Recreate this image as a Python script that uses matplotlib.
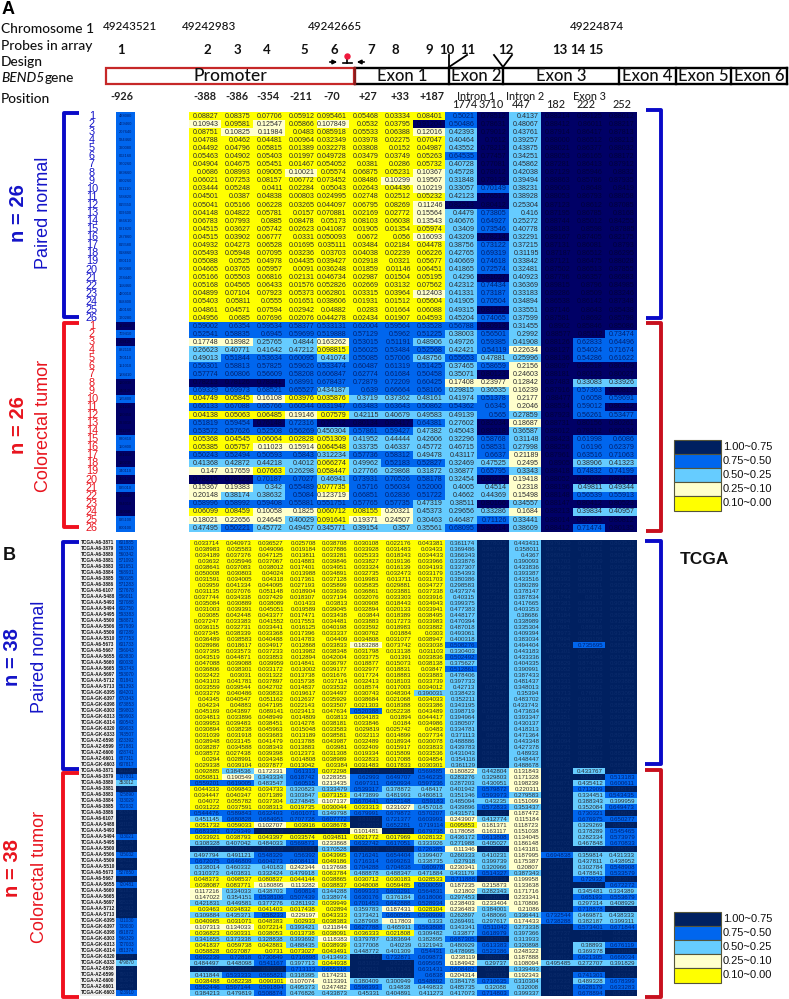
import matplotlib
matplotlib.use("Agg")
import matplotlib.pyplot as plt
from matplotlib.colors import ListedColormap, BoundaryNorm
from matplotlib.patches import Rectangle

W, H = 789, 999
HEAD = "Lato"
HW = "medium"
NUMF = "Liberation Sans"

# probe 1 column, panel A
a_p1_normal = [.6488080,.6469460,.6207640,.6584460,.6320080,.6002160,.6970260,.6889660,.6890260,.6011110,.6528820,.6015550,.6009600,
               .6886610,.6081820,.6287860,.6015580,.6018860,.6020110,.6880080,.6278440,.6158460,.6480010,.6058400,.6410160,.6170280]
a_p1_tumor = [.8123010,.6709410,.8209120,.6882110,.6780110,.6151010,.6188410,.8120930,.8340120,.6185800,.8301230,.8120450,.8223010,
              .8011230,.6090810,.6150800,.8231010,.8120230,.6340110,.8450130,.6085010,.8123040,.8034010,.8210040,.6085100,.6800100]

# probes 2-15, panel A, rows = samples
a_normal = [
 [.08827,.08375,.07706,.05912,.095461,.05468,.03334,.08401,.5021,.78512,.4137,.88214,.86125,.88012],
 [.10943,.09581,.12547,.05866,.107849,.0532,.03795,.91204,.50486,.78631,.48067,.88412,.86011,.88217],
 [.08751,.10825,.11984,.0483,.085918,.05533,.06388,.12016,.42393,.79012,.43761,.87914,.86417,.87813],
 [.04788,.0462,.04481,.00964,.032349,.03978,.02275,.07047,.40464,.7612,.39257,.88,.86512,.88213],
 [.04492,.04796,.05815,.01389,.032278,.03808,.0152,.04987,.43552,.78213,.43875,.88021,.86377,.88032],
 [.05463,.04902,.05403,.01997,.049728,.03479,.03749,.05263,.64535,.77457,.34251,.88053,.86165,.88172],
 [.04904,.04675,.05451,.01467,.054052,.0381,.0286,.05732,.40728,.77081,.45862,.87281,.86413,.87912],
 [.0686,.08993,.09005,.10021,.05574,.06875,.05231,.10367,.45728,.78012,.42038,.87129,.85946,.8832],
 [.06021,.07253,.08157,.06772,.073452,.08486,.10299,.19567,.31848,.79123,.39494,.88863,.85786,.87935],
 [.03444,.05248,.0411,.02284,.05043,.02643,.04436,.10219,.33057,.70149,.38231,.89063,.8648,.8419],
 [.04501,.0387,.04838,.00803,.024995,.02748,.02512,.05232,.42123,.76517,.38928,.88053,.86793,.88058],
 [.05041,.05166,.06228,.03265,.044097,.06795,.08269,.11246,.82513,.80412,.25304,.87123,.8612,.87085],
 [.04148,.04822,.05781,.0157,.070881,.02169,.02772,.15564,.4479,.73805,.416,.87195,.86785,.8168],
 [.06783,.07993,.0885,.08478,.05173,.08103,.06038,.13543,.40676,.64927,.25272,.88744,.85012,.84255],
 [.04515,.03627,.05742,.02623,.041087,.01905,.01354,.05974,.3409,.73546,.40778,.88183,.8598,.87885],
 [.04515,.03902,.06777,.0331,.050093,.0672,.056,.16093,.43209,.78214,.32291,.89167,.87405,.82175],
 [.04932,.04273,.06528,.01695,.035111,.03484,.02184,.04478,.38756,.73122,.37215,.87131,.86081,.8793],
 [.05493,.05948,.07095,.03236,.03703,.04038,.02239,.06226,.42765,.69319,.31195,.87187,.86512,.86295],
 [.05088,.0525,.04978,.04435,.039427,.02918,.0321,.05677,.40669,.74618,.33842,.87121,.86475,.88028],
 [.04665,.03765,.05957,.0091,.036248,.01859,.01146,.06451,.41865,.72574,.32481,.87502,.86513,.87855],
 [.05166,.05503,.06816,.02131,.046734,.02987,.01504,.05195,.4296,.81027,.40923,.87796,.86357,.86883],
 [.05168,.04565,.06433,.01576,.052826,.02669,.03132,.07562,.42312,.74434,.36369,.89815,.8796,.84985],
 [.04899,.07104,.07923,.05373,.062801,.03315,.03964,.12403,.41331,.73187,.33183,.89286,.8509,.83246],
 [.05403,.05811,.0555,.01651,.038606,.01931,.01512,.05604,.41905,.70504,.34894,.86538,.86142,.87348],
 [.04861,.04571,.07594,.02942,.04882,.0283,.01664,.06088,.49315,.81212,.33551,.87146,.8643,.85438],
 [.04956,.0685,.07696,.02076,.044278,.02434,.01907,.04593,.45204,.74065,.37599,.87581,.8692,.85798],
]
a_tumor = [
 [.59002,.6354,.59534,.58377,.533131,.62004,.59564,.53528,.56788,.80913,.31455,.8902,.85846,.85086],
 [.52541,.58835,.6945,.59699,.519888,.57129,.5962,.51225,.38003,.56501,.2992,.88577,.85112,.73474],
 [.17748,.18982,.25765,.4844,.163262,.53015,.51191,.48906,.49726,.59385,.41908,.88126,.62833,.64496],
 [.26623,.40771,.41642,.47212,.098815,.56025,.53484,.52568,.42421,.54119,.22634,.88127,.54024,.71674],
 [.49013,.51844,.53634,.60095,.41074,.55085,.57006,.48756,.55653,.47881,.25996,.88136,.54286,.61622],
 [.56301,.58813,.57825,.59626,.533474,.60487,.61319,.51425,.37465,.58659,.2156,.88097,.80518,.80409],
 [.57774,.60806,.56609,.58208,.606847,.62774,.61684,.50458,.35071,.80123,.24603,.88181,.80123,.80027],
 [.78213,.78126,.78341,.68991,.678437,.72879,.72209,.60425,.17408,.23977,.12842,.87483,.33083,.33926],
 [.69329,.69973,.68521,.65527,.434187,.639,.66664,.58106,.29815,.36535,.16239,.87916,.57363,.80812],
 [.04749,.05845,.16108,.03976,.035876,.3719,.37362,.48161,.41974,.51378,.2177,.88477,.6058,.59691],
 [.66133,.67088,.65766,.60544,.631947,.63483,.63643,.50862,.54362,.6345,.2046,.88534,.59012,.80312],
 [.04138,.05063,.06485,.19146,.07579,.42115,.40679,.49583,.49139,.565,.27859,.87923,.56261,.53477],
 [.51819,.59454,.76148,.72316,.78512,.80134,.80417,.64381,.27602,.82034,.18687,.88731,.80156,.80261],
 [.53572,.57626,.52508,.56269,.450304,.57861,.59427,.47382,.45043,.80318,.36587,.88012,.78312,.80134],
 [.05368,.04545,.06064,.02828,.051309,.41952,.44444,.42606,.32296,.58768,.31148,.88423,.61998,.6086],
 [.05385,.05757,.11023,.15914,.064548,.33735,.46337,.45772,.46715,.58531,.27998,.88256,.6196,.62379],
 [.50243,.52494,.50593,.5843,.312234,.57736,.58312,.49478,.43117,.6637,.21189,.87961,.63516,.71063],
 [.41368,.42872,.44218,.4012,.066274,.49962,.52183,.52827,.32469,.47525,.2495,.8905,.38906,.41323],
 [.147,.17659,.07663,.26298,.058447,.27766,.29868,.31872,.36877,.65795,.3343,.88418,.74832,.74199],
 [.78215,.78123,.70187,.7027,.46941,.73931,.70526,.58178,.32454,.80215,.19418,.88052,.80032,.80417],
 [.15367,.19383,.342,.55489,.077735,.5716,.56034,.52,.4005,.4514,.2318,.88196,.49811,.49344],
 [.20148,.38174,.38632,.5084,.123719,.66851,.62836,.51722,.4662,.44369,.15498,.88148,.56539,.55913],
 [.58996,.58992,.59408,.55881,.551751,.57765,.57735,.47319,.38511,.80166,.34557,.88147,.80412,.80523],
 [.06099,.08459,.10058,.1825,.060712,.08155,.20321,.45373,.29656,.33286,.1684,.88213,.39834,.40957],
 [.18021,.22656,.24645,.40029,.091641,.19371,.24507,.30463,.46487,.71126,.33441,.88014,.80316,.80812],
 [.47495,.50221,.45772,.49457,.345771,.39154,.357,.35561,.68095,.80614,.38609,.88412,.71474,.80135],
]

# probe 1 column, panel B
b_p1_normal = [.601885,.58331,.560342,.571093,.501651,.568931,.560185,.571283,.527678,.596011,.537088,.60275,.593383,.568871,
               .597939,.607289,.577753,.601733,.596043,.60383,.60003,.593743,.59307,.701841,.561393,.604201,.670343,.673853,.599803,
               .569903,.600543,.609033,.743507,.623392,.571881,.628741,.687311,.607817]
b_p1_tumor = [.801234,.737831,.353012,.802341,.72589,.733029,.702032,.803391,.821045,.831102,.812033,.733021,.817024,.809241,
              .735032,.804112,.796083,.52785,.820331,.720481,.801833,.812044,.805132,.824013,.816021,.73103,.73803,.691872,.546329,
              .727033,.681374,.810341,.47987,.802114,.796132,.783041,.810244,.72391]

# probes 2-15, panel B
b_normal = [
 [.033714,.040973,.036527,.025708,.038708,.030108,.022176,.043381,.361174,.878012,.443431,.979329,.892833,.893531],
 [.038983,.035583,.049096,.019184,.037886,.033928,.031483,.03433,.369486,.881034,.358011,.974083,.761851,.883087],
 [.034189,.037376,.047125,.013811,.033281,.025333,.018343,.034433,.366343,.843791,.4367,.980813,.83003,.891345],
 [.03632,.035946,.037067,.014883,.039846,.033827,.019136,.033966,.333876,.880123,.390093,.981703,.868739,.898387],
 [.038641,.037083,.038012,.017401,.034951,.033324,.016139,.034193,.337307,.873097,.433836,.979363,.878311,.900537],
 [.050008,.030803,.04024,.013988,.034891,.032735,.032473,.033179,.354393,.873123,.393387,.977895,.883184,.889932],
 [.031591,.034005,.04318,.017361,.037128,.019983,.013711,.031703,.380386,.867398,.433516,.980393,.860883,.900379],
 [.03959,.041334,.044095,.027193,.035899,.035835,.029881,.034727,.298583,.883136,.380289,.985729,.880881,.903931],
 [.031135,.037076,.051148,.018904,.033636,.036861,.033881,.037338,.437374,.888412,.378147,.977893,.870313,.890381],
 [.037744,.034338,.037429,.018307,.037194,.032076,.033303,.033916,.40315,.873934,.387834,.981744,.8817,.900984],
 [.035084,.030889,.038089,.01433,.03813,.030908,.018443,.034943,.399375,.883519,.417665,.977381,.880183,.908784],
 [.031003,.039391,.045051,.019589,.039045,.032894,.020133,.033941,.477383,.873938,.403353,.977917,.886813,.883683],
 [.03085,.042448,.043377,.017471,.033438,.03844,.018389,.038495,.448177,.873039,.38686,.978184,.887392,.892939],
 [.037247,.033383,.041552,.017553,.034481,.033883,.017273,.033983,.470394,.880304,.338989,.97894,.889817,.910883],
 [.036115,.032731,.033441,.016125,.040198,.033592,.018983,.033882,.487018,.883938,.335304,.97981,.88938,.892738],
 [.037345,.038339,.033368,.017396,.033337,.030762,.01884,.03030,.493061,.880383,.409394,.978973,.883184,.913048],
 [.036489,.038583,.040488,.014783,.04409,.034808,.031077,.038947,.400318,.883088,.383034,.97994,.880109,.918109],
 [.028986,.018617,.034917,.012868,.033833,.183288,.073742,.033038,.508276,.883759,.494404,.978053,.735695,.883184],
 [.037395,.033573,.037233,.013982,.038348,.031798,.013138,.031103,.330403,.883398,.443183,.981301,.883977,.893782],
 [.043519,.044871,.033853,.012894,.042004,.033775,.01391,.033836,.502492,.884043,.433336,.98088,.814048,.815819],
 [.047088,.039088,.039959,.014841,.036797,.018877,.015073,.038138,.375627,.884983,.404335,.983829,.874093,.903389],
 [.036806,.038301,.033172,.013002,.039177,.032977,.018831,.03847,.512861,.883903,.390991,.983052,.873108,.900377],
 [.032422,.03031,.031322,.013738,.031676,.017724,.018883,.033883,.478406,.873878,.387433,.981882,.880378,.883802],
 [.043103,.041781,.037897,.015738,.037114,.032413,.018103,.033739,.397733,.880138,.481437,.979331,.880733,.893886],
 [.033559,.039544,.042702,.014837,.033532,.018574,.017003,.034012,.42713,.87593,.348013,.983393,.880931,.891338],
 [.033279,.040486,.030833,.019617,.034497,.030743,.048304,.390031,.338423,.827847,.35394,.979713,.76993,.883098],
 [.04345,.040547,.051162,.012637,.035929,.038684,.021068,.034033,.352211,.883621,.483702,.977808,.901138,.881738],
 [.04234,.04883,.047195,.022143,.033507,.021303,.018388,.033386,.343195,.850977,.433743,.979374,.893207,.885859],
 [.045169,.043897,.089141,.023413,.047634,.520388,.052238,.043489,.398719,.780287,.473634,.866127,.868581,.901087],
 [.034813,.033896,.048949,.014809,.03813,.034183,.01894,.044417,.394964,.88608,.393347,.980351,.881339,.893381],
 [.039953,.039483,.038451,.014278,.038181,.033846,.0184,.034986,.380507,.873041,.430137,.97883,.881038,.899381],
 [.030894,.038238,.045963,.015048,.033583,.029819,.025742,.0483,.334781,.888732,.418313,.980318,.882789,.900187],
 [.031039,.031918,.033683,.013189,.038581,.032113,.014899,.037734,.371113,.88908,.471364,.977301,.901048,.890736],
 [.038948,.033145,.041479,.013788,.043987,.032489,.018934,.030078,.488886,.883818,.443348,.973094,.889303,.883337],
 [.038287,.034588,.038343,.013883,.03981,.032409,.015917,.033833,.439783,.881318,.427378,.970731,.883877,.883133],
 [.038572,.027438,.039398,.012373,.031308,.019334,.015809,.033536,.431043,.883518,.48933,.980884,.883303,.883331],
 [.0294,.028991,.034348,.014808,.038989,.032833,.017088,.034854,.354116,.884135,.448447,.980873,.884032,.883893],
 [.029338,.039104,.037877,.013042,.03384,.031483,.017833,.030301,.361129,.883219,.488678,.980138,.883017,.883812],
]
b_tumor = [
 [.092885,.384536,.172331,.61313,.072298,.81234,.85103,.569885,.180822,.442804,.131843,.90134,.433767,.88104],
 [.050811,.190549,.343334,.618742,.228355,.62993,.649707,.546235,.283276,.329803,.171328,.87733,.83012,.513183],
 [.559201,.619005,.483547,.60515,.213435,.697311,.650934,.597336,.287203,.430951,.198239,.89871,.435412,.600611],
 [.044333,.099843,.034733,.320823,.333479,.539317,.378872,.48417,.401942,.579872,.220311,.89073,.712909,.88137],
 [.034447,.040347,.071389,.303847,.073153,.473899,.481993,.480813,.351346,.593973,.279583,.88093,.334451,.543435],
 [.04072,.055782,.037304,.274845,.107137,.670441,.582148,.59183,.485094,.43235,.151099,.88903,.388343,.399959],
 [.031222,.037591,.038313,.019735,.030044,.033313,.231027,.457018,.439896,.572833,.353437,.87937,.352084,.649473],
 [.544476,.589843,.632403,.601071,.349798,.679991,.679872,.570207,.431571,.83012,.187472,.87034,.730321,.88012],
 [.451145,.680828,.684951,.707728,.607772,.81023,.721377,.603993,.243907,.412774,.115184,.88972,.676975,.650277],
 [.051732,.059033,.102707,.03916,.038678,.83012,.652281,.719114,.095853,.181371,.118723,.89738,.329269,.84103],
 [.683383,.729349,.78103,.79012,.78313,.101481,.84102,.679738,.178058,.163117,.151038,.87493,.378289,.545465],
 [.033921,.038793,.043397,.033574,.034811,.021772,.017969,.028132,.436172,.613808,.134045,.88379,.282334,.573979],
 [.308328,.407042,.484033,.569873,.233868,.632742,.617051,.333926,.271988,.405027,.186148,.88702,.467848,.670833],
 [.81023,.80412,.79233,.81134,.370528,.82018,.842031,.726385,.11346,.83013,.143181,.87903,.84012,.85103],
 [.497794,.491121,.548329,.56392,.043995,.716241,.654404,.399407,.260333,.410231,.187995,.694838,.359814,.431333],
 [.672075,.646809,.604273,.608413,.049186,.716314,.699263,.338735,.27918,.399739,.175387,.88137,.437811,.438952],
 [.338014,.460332,.40183,.242344,.137698,.704288,.704838,.60978,.230341,.320966,.20807,.87376,.302784,.548908],
 [.310373,.403831,.332424,.479918,.063784,.488878,.488347,.471884,.431179,.514327,.387343,.88338,.478841,.533579],
 [.048373,.098537,.080837,.044144,.038865,.030712,.030183,.028533,.711888,.80134,.199958,.87409,.72932,.83011],
 [.038087,.083771,.180895,.113282,.038837,.048008,.059485,.500059,.187235,.215873,.133638,.87303,.86013,.672272],
 [.117216,.334033,.438703,.60814,.344288,.699333,.603291,.564831,.21802,.282343,.171716,.87393,.345481,.334389],
 [.147022,.354151,.538106,.507439,.338974,.630176,.376184,.618006,.297453,.81033,.233341,.88138,.65193,.553679],
 [.421831,.449581,.377276,.281192,.039949,.701453,.642888,.528934,.238403,.233404,.170806,.88037,.297314,.408929],
 [.03463,.034832,.041403,.017438,.02894,.359783,.187431,.028304,.236483,.384001,.21086,.88319,.718878,.83012],
 [.309884,.435371,.58233,.229197,.043333,.373421,.600505,.590909,.262897,.488066,.336441,.732544,.469871,.438333],
 [.040965,.031071,.048383,.02933,.038383,.287908,.17803,.333,.269491,.297617,.174433,.738288,.382187,.399311],
 [.107313,.134033,.072214,.393421,.211844,.627788,.465911,.563808,.343341,.511042,.273338,.89074,.573401,.671844],
 [.036823,.030331,.038053,.013738,.038091,.036333,.021808,.309482,.33877,.618979,.397366,.87737,.84013,.83202],
 [.341655,.373338,.328838,.393692,.118383,.379787,.383694,.382895,.687305,.82011,.313933,.88121,.80314,.84203],
 [.041837,.059738,.042883,.488435,.038939,.377008,.40239,.321943,.480929,.613383,.320898,.87387,.38893,.676119],
 [.058828,.037087,.0731,.073027,.043491,.448772,.401309,.54431,.478995,.523386,.248322,.87327,.369378,.81034],
 [.692239,.72818,.730849,.716898,.413493,.80123,.732871,.609873,.238119,.80312,.187888,.88012,.621305,.660034],
 [.484497,.448098,.541167,.397713,.044938,.81033,.82103,.695695,.184942,.29737,.108094,.495485,.272707,.391829],
 [.81203,.79344,.80233,.713113,.655318,.82031,.817143,.631431,.608482,.83101,.339493,.88042,.84712,.85312],
 [.411844,.533333,.565821,.318395,.174231,.81204,.79103,.6838,.204314,.80112,.192343,.89034,.741301,.83104],
 [.038488,.082238,.090301,.107074,.113391,.380409,.300949,.548802,.384178,.710635,.310304,.87233,.489328,.678399],
 [.562446,.597144,.591894,.495373,.247482,.598393,.34838,.449833,.485735,.32088,.32008,.88782,.628179,.633283],
 [.384213,.479819,.508874,.476826,.433873,.45331,.404891,.411273,.417073,.714803,.399337,.88578,.678894,.83127],
]

b_ids = ["A6-3871","A6-3879","A6-3880","A6-3881","A6-3883","A6-3884","A6-3885","A6-3886","A6-6107","AA-5488","AA-5493","AA-5494","AA-5495",
         "AA-5500","AA-5506","AA-5509","AA-5510","A6-5673","A6-5667","AA-5655","AA-5660","AA-5665","AA-5697","AA-5712","AA-5713","GK-6395",
         "GK-6397","GK-6398","GK-6303","GK-6313","GK-6314","GK-6320","GK-6333","AZ-6598","AZ-6599","AZ-6600","AZ-6601","GK-6603"]

bounds = [0, .10, .25, .50, .75, 1.0]
legend_labels = ["1.00~0.75", "0.75~0.50", "0.50~0.25", "0.25~0.10", "0.10~0.00"]
YEL, CREAM, LIGHT, BLUE = "#FFFF00", "#FFFFCC", "#66CCFF", "#0066EE"
cmap_a = ListedColormap([YEL, CREAM, LIGHT, BLUE, "#000066"])
cmap_b = ListedColormap([YEL, CREAM, LIGHT, BLUE, "#002060"])
norm = BoundaryNorm(bounds, 5)

chrom_pos = [("49243521", 130), ("49242983", 209), ("49242665", 335), ("49224874", 597)]
probes = [("1",121),("2",207),("3",237),("4",267),("5",304),("6",334),("7",371),("8",395),("9",429),("10",447),
          ("11",468),("12",506),("13",560),("14",578),("15",596)]
positions = [("-926",122),("-388",205),("-386",237),("-354",268),("-211",301),("-70",332),("+27",368),("+33",400),("+187",432)]
exons = [("Exon 1",355,449),("Exon 2",449,503),("Exon 3",503,619),("Exon 4",619,676),("Exon 5",676,731),("Exon 6",731,787)]

fig = plt.figure(figsize=(W/100, H/100), dpi=100)

def px_axes(x0, y0, x1, y1, z=1):
    a = fig.add_axes([x0/W, 1-y1/H, (x1-x0)/W, (y1-y0)/H], zorder=z)
    a.axis("off")
    return a

def heat(rect, rows, cmap, fs, dark_ink, pad, decimals, tail=None):
    # one block of cells, colour comes from the value via the norm
    a = px_axes(*rect)
    a.pcolormesh(rows, cmap=cmap, norm=norm, edgecolors="none")
    a.set_ylim(len(rows), 0)
    for i, r in enumerate(rows):
        for j, v in enumerate(r):
            ink = dark_ink if v >= .75 else ("#00206e" if v >= .5 else "#2a2a30")
            s = str(v)
            if len(s) < 5:
                s = f"{v:.{decimals}f}"
            if tail:
                s = f"{v:.{tail}f}"[-6:]
                a.text(j+.5, i+.5, s, ha="center", va="center", fontsize=fs, color=ink, family=NUMF)
            else:
                a.text(j+1-pad, i+.52, s, ha="right", va="center", fontsize=fs, color=ink, family=NUMF)
    return a

# panel A
heat((116, 112, 135, 532), [[v] for v in a_p1_normal+a_p1_tumor], cmap_a, 2.9, "#00003c", 0, 5, tail=7)
heat((189, 112, 637, 532), a_normal+a_tumor, cmap_a, 5.1, "#00003c", .07, 5)
# panel B
heat((116, 540, 137, 996), [[v] for v in b_p1_normal+b_p1_tumor], cmap_b, 3.3, "#0c2c6c", 0, 6, tail=6)
heat((190, 540, 637, 996), b_normal+b_tumor, cmap_b, 4.4, "#0c2c6c", .06, 6)

ax = px_axes(0, 0, W, H, z=5)
ax.set_xlim(0, W)
ax.set_ylim(H, 0)

# TCGA id strip
ax.add_patch(Rectangle((80, 540), 36, 456, fc="#eeeeee", ec="none"))
for i, name in enumerate(b_ids+b_ids):
    ax.text(98, 543+6*i, "TCGA-"+name, ha="center", va="center", fontsize=3.4, weight="bold", color="#111111", family=NUMF)

# sample numbers, panel A
for i in range(26):
    ax.text(92, 116+8.08*i, str(i+1), ha="center", va="center", fontsize=7.8, color="#1414c8", family=NUMF)
    ax.text(92, 326+8.08*i, str(i+1), ha="center", va="center", fontsize=7.8, color="#e8141e", family=NUMF)

# header text
ax.text(2, 9, "A", fontsize=13, weight="bold", va="center", family=NUMF)
ax.text(3, 555, "B", fontsize=13, weight="bold", va="center", family=NUMF, color="#111111")
for s, y in [("Chromosome 1", 29), ("Probes in array", 46), ("Design", 62), ("Position", 99)]:
    ax.text(1, y, s, fontsize=9.9, va="center", family=HEAD, weight=HW, color="#111111")
ax.text(1, 78, "BEND5", fontsize=9.9, va="center", family=HEAD, weight=HW, style="italic", color="#111111")
ax.text(45, 78, "gene", fontsize=9.9, va="center", family=HEAD, weight=HW, color="#111111")
for s, x in chrom_pos:
    ax.text(x, 27, s, fontsize=8.4, ha="center", va="center", family=HEAD, weight=HW, color="#111111")
for s, x in probes:
    ax.text(x, 50, s, fontsize=9.5, ha="center", va="center", family=HEAD, weight="bold", color="#111111")
for s, x in positions:
    ax.text(x, 96, s, fontsize=7.8, ha="center", va="center", family=HEAD, weight="bold", color="#222222")
for s, x, y in [("Intron 1",476,96),("1774",465,105),("3710",491,105),("Intron 2",525,96),("447",521,105),("182",556,105),
                ("Exon 3",589,96),("222",586,105),("252",622,105)]:
    ax.text(x, y, s, fontsize=7.8, ha="center", va="center", family=HEAD, weight=HW, color="#222222")

# gene track
ax.add_patch(Rectangle((106, 67.5), 248, 16.5, fc="white", ec="#c62828", lw=1.6))
ax.text(230, 76, "Promoter", fontsize=12.6, ha="center", va="center", family=HEAD, weight=HW, color="#111111")
ax.plot([355, 787], [67.5, 67.5], color="k", lw=1.7)
ax.plot([355, 787], [84, 84], color="k", lw=1.7)
for s, x0, x1 in exons:
    ax.plot([x1, x1], [67.5, 84], color="k", lw=1.7)
    ax.text((x0+x1)/2, 76, s, fontsize=12, ha="center", va="center", family=HEAD, weight=HW, color="#111111")
ax.plot([355, 355], [67.5, 84], color="#8a1c1c", lw=1.7)
for xs, ys in [([449,449],[55,67]), ([467,449],[55,67]), ([494,503],[55,67]), ([512,503],[55,67])]:
    ax.plot(xs, ys, color="k", lw=1.3)

# primers and probe mark
ax.annotate("", xy=(340, 62), xytext=(327, 62), arrowprops=dict(arrowstyle="-|>", color="k", lw=1.2, mutation_scale=6))
ax.annotate("", xy=(354, 62), xytext=(367, 62), arrowprops=dict(arrowstyle="-|>", color="k", lw=1.2, mutation_scale=6))
ax.plot([343, 352], [63, 63], color="k", lw=1.2)
ax.plot([347.5, 347.5], [58, 63], color="k", lw=1.2)
ax.plot([347.5], [56], "o", color="#f0183c", ms=3.6)

# brackets
def bracket(x_open, x_spine, y0, y1, color):
    ax.plot([x_open, x_spine, x_spine, x_open], [y0, y0, y1, y1], color=color, lw=2.8, solid_joinstyle="round", solid_capstyle="butt")

NAVY, RED, DRED = "#0a0ac8", "#f0101e", "#c8101e"
bracket(79, 64, 113, 317, NAVY)
bracket(79, 64, 323, 527, RED)
bracket(646, 661, 110, 318, NAVY)
bracket(646, 661, 323, 531, DRED)
bracket(79, 63, 542, 769, NAVY)
bracket(79, 63, 773, 997, RED)
bracket(645, 661, 541, 764, NAVY)
bracket(645, 661, 770, 997, DRED)

# side labels
for s, x, y, c in [("n = 26",19,213,"#1414c8"),("Paired normal",44,213,"#1414c8"),("n = 26",19,425,"#e8141e"),("Colorectal tumor",44,426,"#e8141e"),
                   ("n = 38",13,657,"#1414c8"),("Paired normal",40,657,"#1414c8"),("n = 38",13,868,"#e8141e"),("Colorectal tumor",40,877,"#e8141e")]:
    bold = s.startswith("n")
    ax.text(x, y, s, rotation=90, ha="center", va="center", color=c, family=NUMF,
            fontsize=14.5 if bold else 13, weight="bold" if bold else "normal")

ax.text(680, 560, "TCGA", fontsize=12.5, weight="bold", va="center", family=NUMF, color="#111111")

# legends
legend_colors = ["#002060", BLUE, LIGHT, CREAM, YEL]
for y0 in (440, 912):
    for i, (c, s) in enumerate(zip(legend_colors, legend_labels)):
        ax.add_patch(Rectangle((674, y0+14.1*i), 47, 14.1, fc=c, ec="#55553a", lw=.8))
        ax.text(723, y0+14.1*i+7, s, fontsize=8, va="center", family=NUMF, color="#111111")

fig.savefig("out.png", dpi=100)
